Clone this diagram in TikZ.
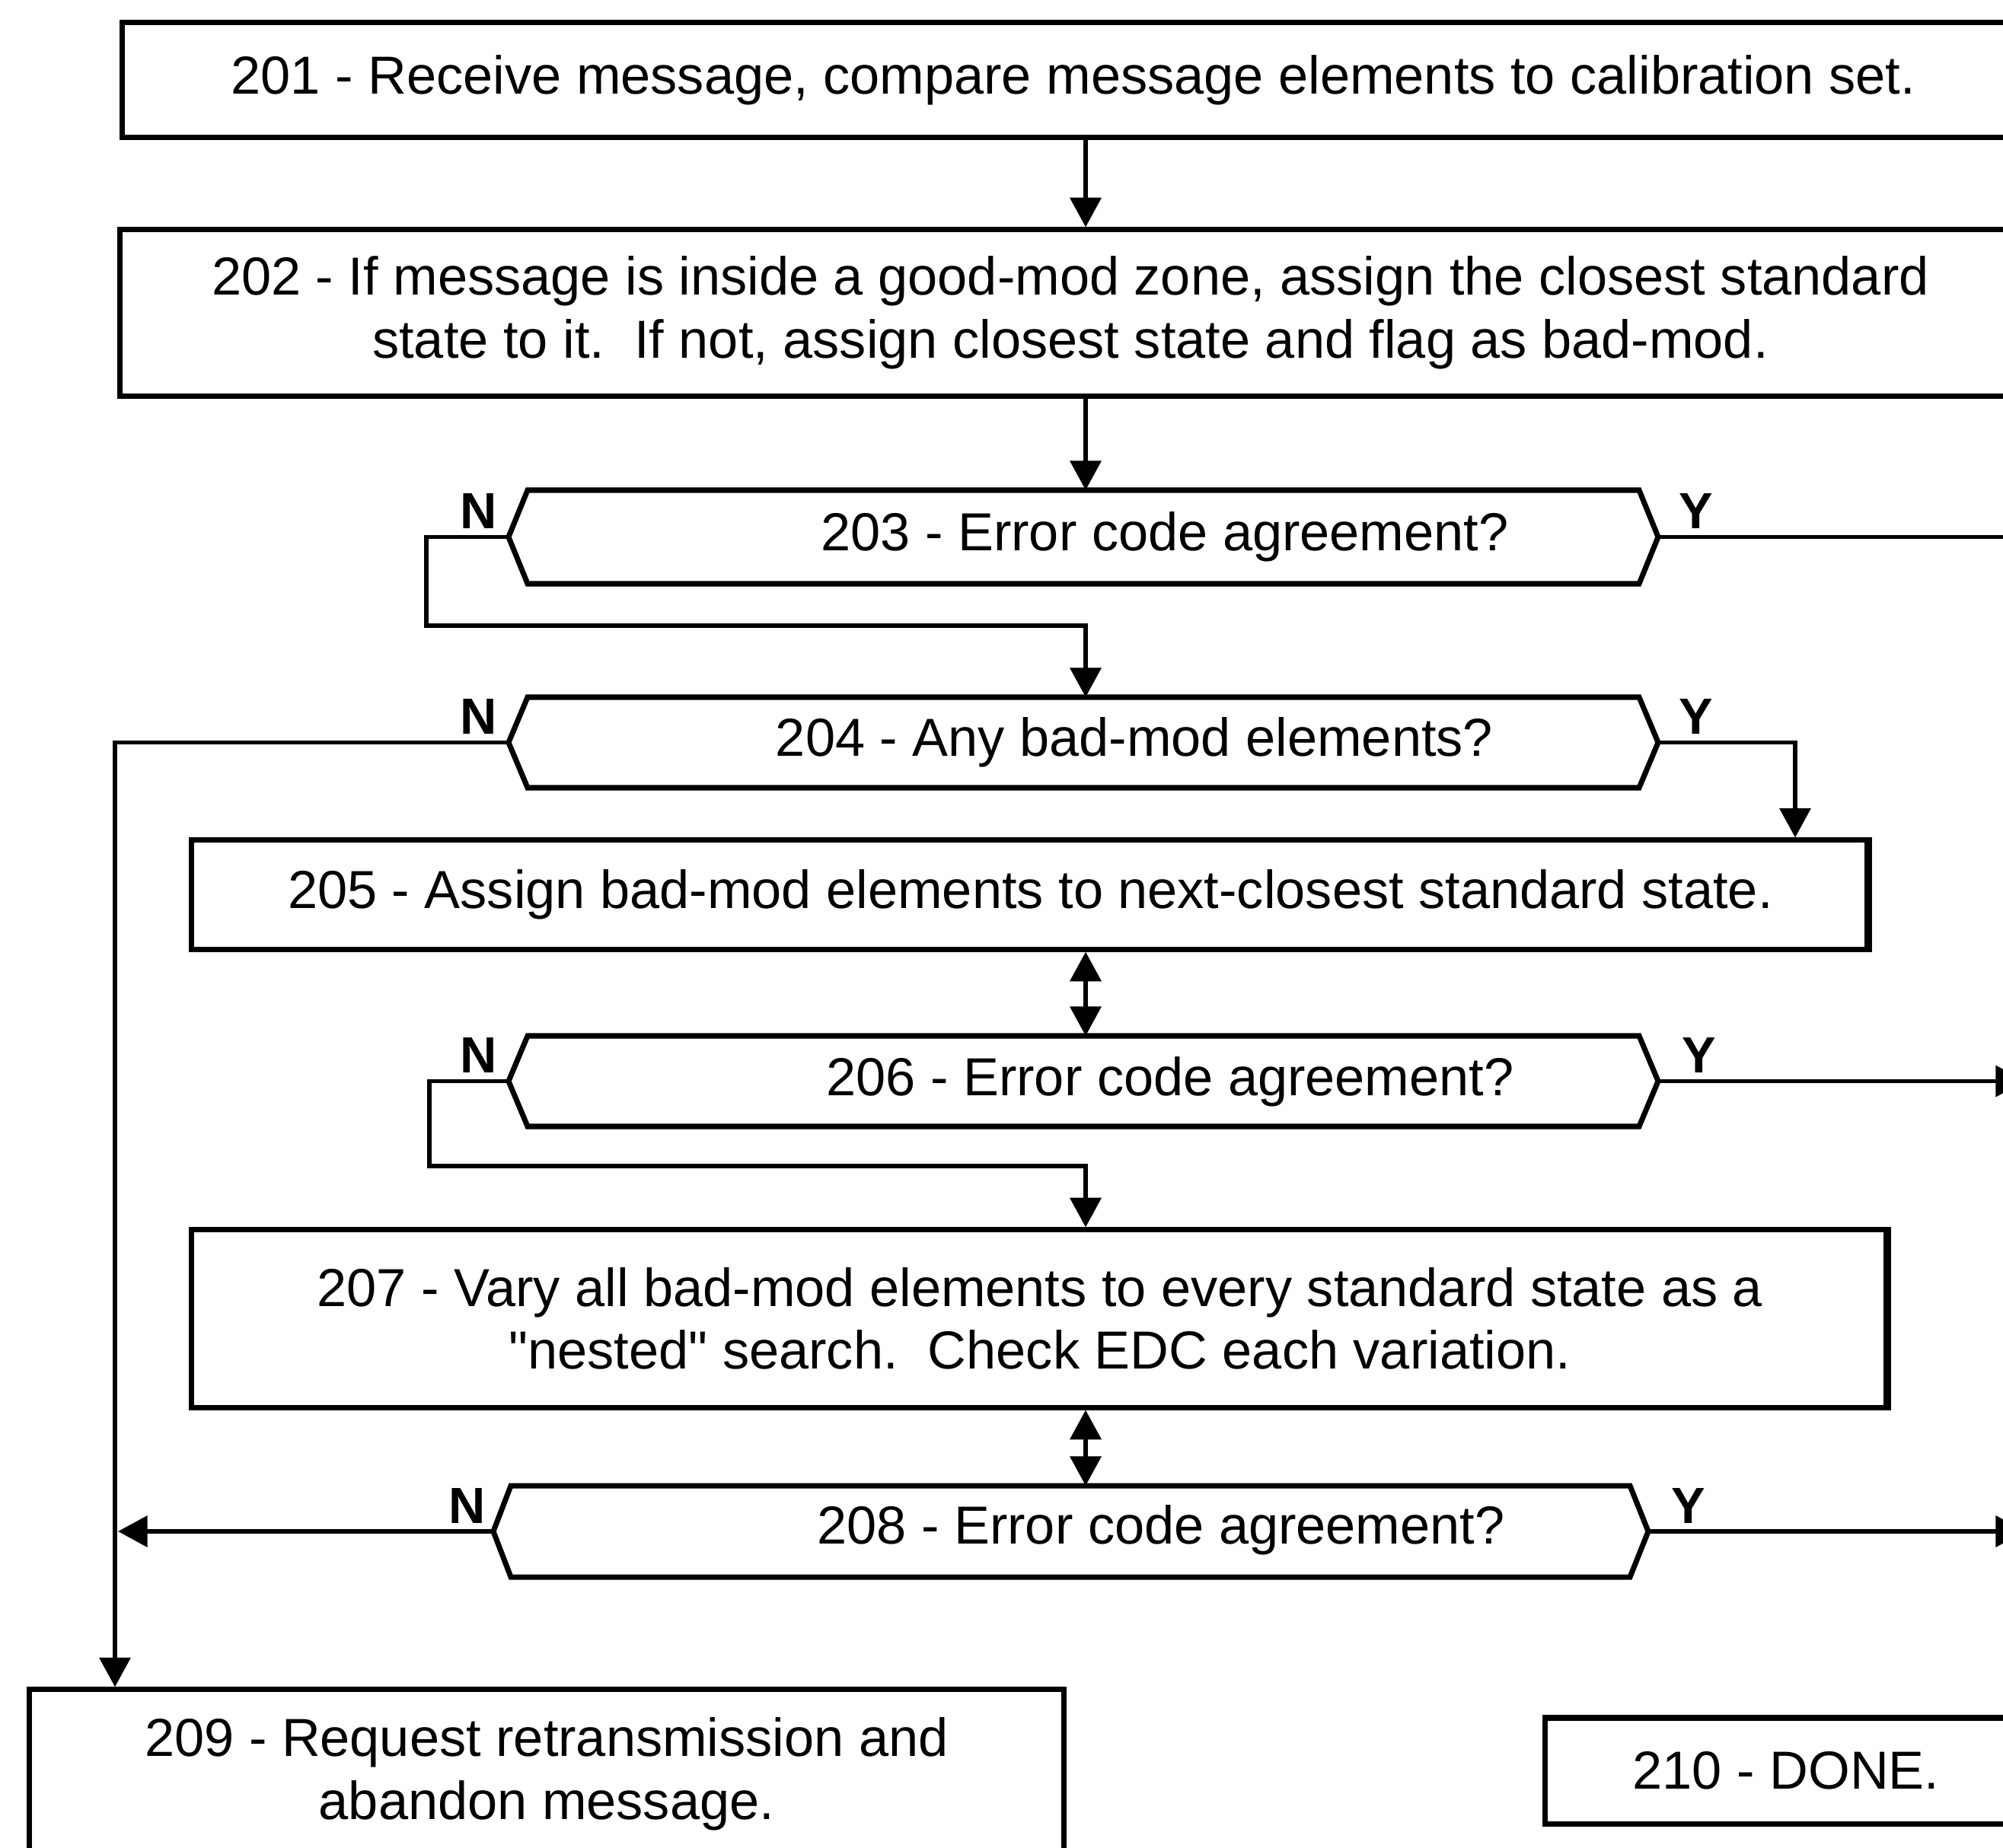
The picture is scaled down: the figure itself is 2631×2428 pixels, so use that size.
\documentclass[tikz,border=0pt]{standalone}
\usepackage{fontspec}
\setmainfont{Liberation Sans}[Ligatures=TeXOff]
\usetikzlibrary{arrows.meta}
\begin{document}
\begin{tikzpicture}[x=0.01cm,y=-0.01cm,
  box/.style={draw, line width=2pt, inner sep=0, align=center, font=\fontsize{20}{23.5}\selectfont},
  txt/.style={inner sep=0, font=\fontsize{20}{23.5}\selectfont},
  lbl/.style={inner sep=0, font=\bfseries\fontsize{19}{19}\selectfont},
  tip/.style={-{Triangle[length=11pt,width=11.5pt]}},
  conn/.style={line width=1.6pt, tip},
  dconn/.style={line width=1.6pt, {Triangle[length=11pt,width=11.5pt]}-{Triangle[length=11pt,width=11.5pt]}},
  plain/.style={line width=1.6pt},
  dshape/.style={draw, line width=2pt, line join=miter}]
\useasboundingbox (0,0) rectangle (2631,2428);
\clip (0,0) rectangle (2631,2428);
\fill[white] (0,0) rectangle (2631,2428);

% column coordinates
\coordinate (xm) at (1426,0);
\coordinate (x209) at (151,0);
\coordinate (x205) at (2358,0);

% boxes
\node[box, minimum width=24.98cm, minimum height=1.50cm] (b201) at (1410,105)
  {201 - Receive message, compare message elements to calibration set.};
\node[box, minimum width=24.96cm, minimum height=2.18cm] (b202) at (1406,411)
  {202 - If message is inside a good-mod zone, assign the closest standard\\state to it.\ \ If not, assign closest state and flag as bad-mod.};
\node[box, minimum width=22.03cm, minimum height=1.43cm] (b205) at (1353.5,1175.5)
  {205 - Assign bad-mod elements to next-closest standard state.};
\node[box, minimum width=22.28cm, minimum height=2.33cm] (b207) at (1366,1732.5)
  {207 - Vary all bad-mod elements to every standard state as a\\"nested" search.\ \ Check EDC each variation.};
\node[box, minimum width=13.58cm, minimum height=2.22cm] (b209) at (718,2331)
  {209 - Request retransmission and\\abandon message.};
\node[box, minimum width=6.32cm, minimum height=1.39cm] (b210) at (2346,2326.5)
  {210 - DONE.};
\draw[line width=2pt] ([xshift=-2pt]b205.north east) -- ([xshift=-2pt]b205.south east);
\draw[line width=2pt] ([xshift=-2pt]b207.north east) -- ([xshift=-2pt]b207.south east);

% decisions
\coordinate (d203w) at (668,705.5); \coordinate (d203e) at (2178,705.5); \coordinate (d203n) at (1426,644);
\draw[dshape] (d203w) -- (693,644) -- (2153,644) -- (d203e) -- (2153,767) -- (693,767) -- cycle;
\node[txt] (t203) at (1530,705) {203 - Error code agreement?};

\coordinate (d204w) at (668,975.5); \coordinate (d204e) at (2178,975.5); \coordinate (d204n) at (1426,916);
\draw[dshape] (d204w) -- (693,916) -- (2153,916) -- (d204e) -- (2153,1035) -- (693,1035) -- cycle;
\node[txt] (t204) at (1490,975) {204 - Any bad-mod elements?};

\coordinate (d206w) at (668,1420.5); \coordinate (d206e) at (2178,1420.5); \coordinate (d206n) at (1426,1361);
\draw[dshape] (d206w) -- (693,1361) -- (2153,1361) -- (d206e) -- (2153,1480) -- (693,1480) -- cycle;
\node[txt] (t206) at (1537,1421) {206 - Error code agreement?};

\coordinate (d208w) at (648,2012); \coordinate (d208e) at (2165,2012); \coordinate (d208n) at (1426,1952);
\draw[dshape] (d208w) -- (671,1952) -- (2141,1952) -- (d208e) -- (2141,2072) -- (671,2072) -- cycle;
\node[txt] (t208) at (1525,2010) {208 - Error code agreement?};

% N / Y labels
\node[lbl] (n203) at (629,672) {N};  \node[lbl] (y203) at (2228,672) {Y};
\node[lbl] (n204) at (629,942) {N};  \node[lbl] (y204) at (2228,942) {Y};
\node[lbl] (n206) at (629,1387) {N}; \node[lbl] (y206) at (2232,1387) {Y};
\node[lbl] (n208) at (614,1978) {N}; \node[lbl] (y208) at (2218,1978) {Y};

% connectors
\draw[conn] (xm |- b201.south) -- (xm |- b202.north);
\draw[conn] (xm |- b202.south) -- (d203n);
\draw[conn] (d203w) -- ++(-108,0) |- (1426,822) -- (d204n);
\draw[plain] (d203e) -- (2700,705.5);
\draw[conn] (d204w) -| (x209 |- b209.north);
\draw[conn] (d204e) -| (x205 |- b205.north);
\draw[dconn] (xm |- b205.south) -- (d206n);
\draw[conn] (d206w) -- ++(-104,0) |- (1426,1532) -- (xm |- b207.north);
\draw[conn] (d206e) -- (2660,1420.5);
\draw[dconn] (xm |- b207.south) -- (d208n);
\draw[conn] (d208w) -- (155,2012);
\draw[conn] (d208e) -- (2660,2012);
\end{tikzpicture}
\end{document}
